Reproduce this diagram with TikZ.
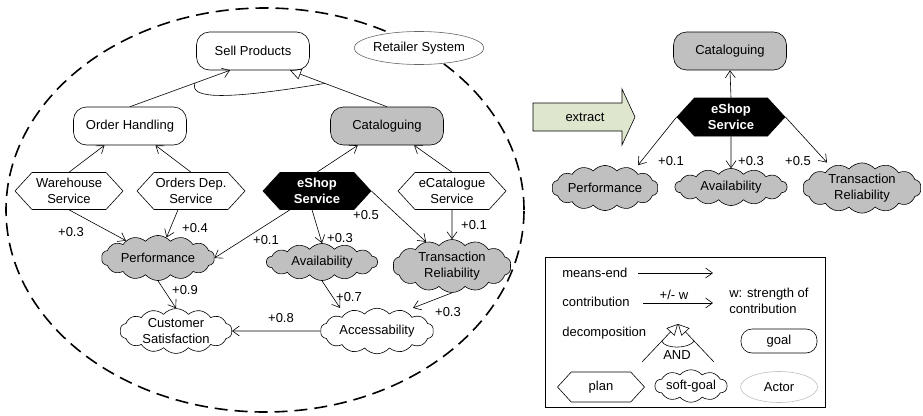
\documentclass[tikz,border=0pt]{standalone}
\usepackage{fontspec}
\setmainfont{Liberation Sans}
\usetikzlibrary{shapes.symbols,shapes.geometric,shapes.misc,arrows.meta}
\definecolor{goalgray}{RGB}{192,192,192}
\definecolor{extractfill}{RGB}{222,230,206}
\tikzset{
 base/.style={font=\fontsize{13}{15.5}\selectfont, align=center, line width=0.6pt},
 goal/.style={base, draw, rectangle, rounded corners=13pt, minimum width=113pt, minimum height=38pt, inner sep=1pt},
 plan/.style={base, draw, signal, signal to=west and east, signal pointer angle=95, minimum width=108pt, minimum height=37pt, inner sep=1pt},
 soft/.style={base, draw, cloud, cloud puffs=14, cloud puff arc=100, aspect=3, minimum width=113pt, minimum height=38pt, inner sep=0pt},
 actor/.style={base, draw, ellipse, minimum width=118pt, minimum height=33pt, inner sep=0pt, fill=white},
 lbl/.style={base, inner sep=0pt},
 lleft/.style={base, inner sep=0pt, anchor=west, align=left},
 meansend/.style={line width=0.6pt, -{Straight Barb[length=7pt,width=10pt]}},
 decomp/.style={line width=0.6pt, -{Triangle[open,length=11pt,width=11pt]}},
 andarc/.style={line width=0.6pt},
 blackplan/.style={plan, fill=black, text=white, font=\fontsize{13}{15.5}\selectfont\bfseries},
}
\begin{document}
\begin{tikzpicture}[x=1pt,y=-1pt]
\useasboundingbox (0,0) rectangle (923,415);
% actor boundary
\draw[line width=1.6pt, dash pattern=on 13pt off 7pt] (265,210) ellipse [x radius=259pt, y radius=202pt];

% left model
\node[goal] (sell) at (253,51) {Sell Products};
\node[actor, draw=black!60, minimum width=118pt] (ret) at (419,48) {Retailer System};
\node[goal] (oh) at (130,126) {Order Handling};
\node[goal, fill=goalgray] (cat) at (387,126) {Cataloguing};
\node[plan] (ware) at (69,191) {Warehouse\\Service};
\node[plan] (ord) at (191,191) {Orders Dep.\\Service};
\node[blackplan] (eshop) at (317,191) {eShop\\Service};
\node[plan] (ecat) at (452,191) {eCatalogue\\Service};
\node[soft, fill=goalgray, minimum height=39pt] (perf) at (158,258) {Performance};
\node[soft, fill=goalgray, minimum width=111pt, minimum height=35pt] (avail) at (322,262) {Availability};
\node[soft, fill=goalgray, minimum height=53pt] (tr) at (452,266) {Transaction\\Reliability};
\node[soft, minimum width=112pt, minimum height=37pt] (cs) at (176,331) {Customer\\Satisfaction};
\node[soft, minimum height=33pt] (acc) at (377,331) {Accessability};

\draw[meansend] (oh.north) -- coordinate[pos=0.65] (and1) ([xshift=-23pt]sell.south);
\draw[decomp] (cat.north) -- coordinate[pos=0.64] (and2) ([xshift=37pt]sell.south);
\draw[andarc] (and1) .. controls ([shift={(-6,16)}]and1) and ([shift={(30,17)}]and1) .. (and2);

\draw[meansend] (ware.north) -- (oh);
\draw[meansend] (ord.north) -- (oh);
\draw[meansend] (eshop.north) -- (cat);
\draw[meansend] (ecat.north) -- (cat);

\draw[meansend] (ware.south) -- (perf);
\draw[meansend] ([xshift=-13pt]ord.south) -- (perf);
\draw[meansend] ([xshift=-27pt]eshop.south) -- (perf.east);
\draw[meansend] ([xshift=-5pt]eshop.south) -- (avail.north);
\draw[meansend] (eshop.east) -- (tr);
\draw[meansend] (ecat.south) -- (tr.north);
\draw[meansend] (perf.south) -- (cs.north);
\draw[meansend] (avail.south) -- ([xshift=-37pt]acc.north);
\draw[meansend] (tr.south) -- ([xshift=36pt]acc.north);
\draw[meansend] (acc.west) -- (cs.east);

\node[lbl] (l1) at (71,232) {+0.3};
\node[lbl] (l2) at (195,228) {+0.4};
\node[lbl] (l3) at (266,240) {+0.1};
\node[lbl] (l4) at (340,238) {+0.3};
\node[lbl] (l5) at (366,215) {+0.5};
\node[lbl] (l6) at (474,225) {+0.1};
\node[lbl] (l7) at (185,290) {+0.9};
\node[lbl] (l8) at (349,297) {+0.7};
\node[lbl] (l9) at (448,312) {+0.3};
\node[lbl] (l10) at (281,318) {+0.8};

% extract arrow
\draw[line width=0.6pt, fill=extractfill] (533,103) -- (622,103) -- (622,89) -- (635,117) -- (622,145) -- (622,131) -- (533,131) -- cycle;
\node[lbl] (ext) at (585,117) {extract};

% right model
\node[goal, fill=goalgray] (rcat) at (730,51) {Cataloguing};
\node[blackplan, minimum height=38pt] (reshop) at (731,117) {eShop\\Service};
\node[soft, fill=goalgray, minimum width=105pt, minimum height=35pt] (rperf) at (605,188) {Performance};
\node[soft, fill=goalgray, minimum width=112pt, minimum height=34pt] (ravail) at (731,187) {Availability};
\node[soft, fill=goalgray, minimum width=111pt, minimum height=50pt] (rtr) at (862,188) {Transaction\\Reliability};
\draw[meansend] (reshop.north) -- (rcat.south);
\draw[meansend] (reshop.west) -- ([xshift=33pt]rperf.north);
\draw[meansend] (reshop.south) -- (ravail.north);
\draw[meansend] (reshop.east) -- ([xshift=-35pt]rtr.north);
\node[lbl] (r1) at (671,161) {+0.1};
\node[lbl] (r2) at (751,161) {+0.3};
\node[lbl] (r3) at (798,161) {+0.5};

% legend
\draw[line width=0.6pt] (545,257) rectangle (825,407);
\node[lleft] (tme) at (562,273) {means-end};
\coordinate (me1) at (638,273);
\coordinate (me2) at (713,273);
\draw[meansend] (me1) -- (me2);
\node[lleft] (tco) at (562,302) {contribution};
\coordinate (co1) at (643,303);
\coordinate (co2) at (713,303);
\draw[meansend] (co1) -- (co2);
\node[lbl] (tpm) at (674,295) {+/- w};
\node[lleft] (tws) at (729,301) {w: strength of\\contribution};
\node[lleft] (tde) at (562,333) {decomposition};
\coordinate (apex) at (678,324);
\coordinate (dl) at (642,362);
\coordinate (dr) at (714,362);
\draw[decomp] (dl) -- coordinate[pos=0.55] (da1) (apex);
\draw[decomp] (dr) -- coordinate[pos=0.55] (da2) (apex);
\draw[andarc] (da1) .. controls ([shift={(3,8)}]da1) and ([shift={(-6,8)}]da2) .. (da2);
\node[lbl] (tand) at (677,355) {AND};
\node[goal, minimum width=76pt, minimum height=24pt, rounded corners=11pt] (lgoal) at (779,341) {goal};
\node[plan, minimum width=87pt, minimum height=30pt] (lplan) at (601,387) {plan};
\node[soft, cloud puffs=10, minimum width=72pt, minimum height=25pt] (lsoft) at (691,386) {soft-goal};
\node[actor, draw=black!25, minimum width=77pt, minimum height=31pt] (lactor) at (779,387) {Actor};
\end{tikzpicture}
\end{document}
